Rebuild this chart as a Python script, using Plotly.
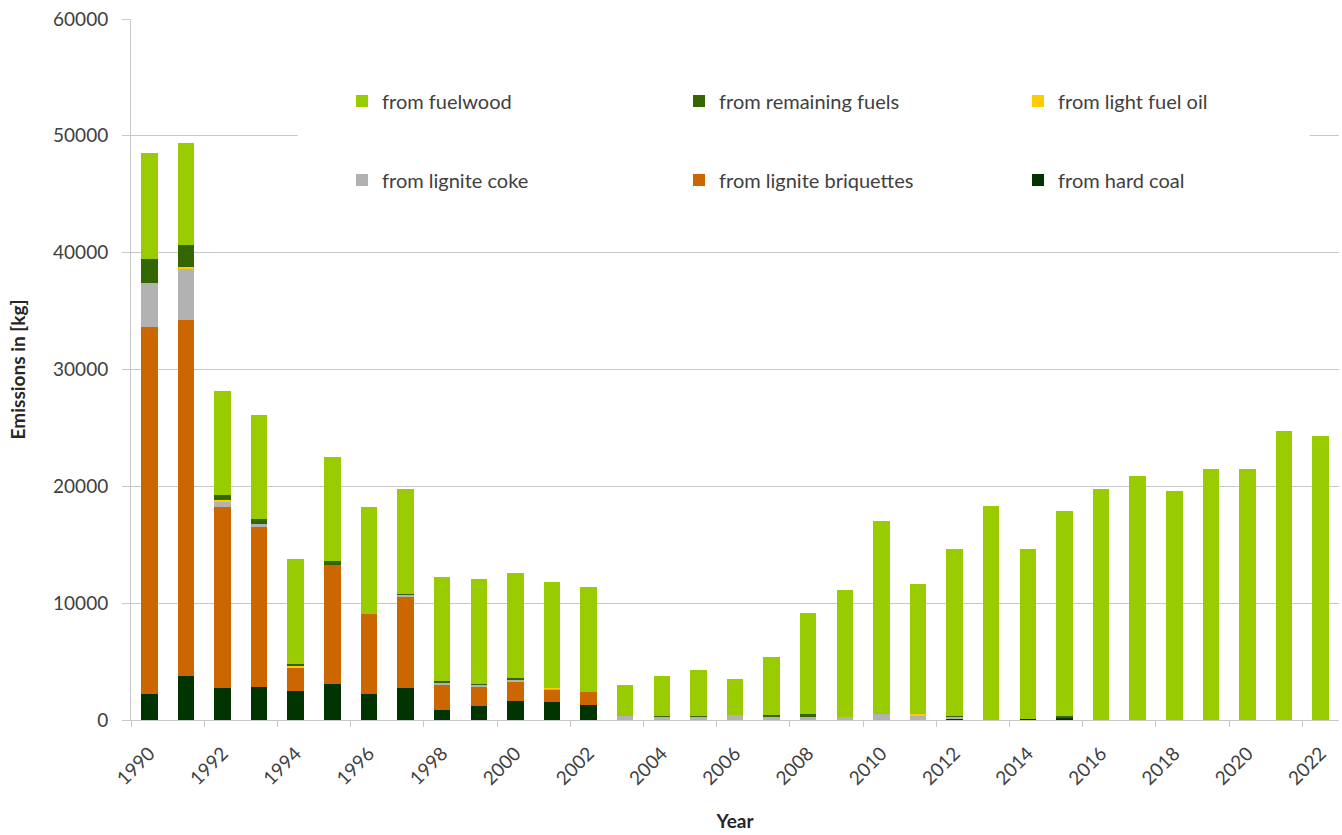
import plotly.graph_objects as go

years = list(range(1990, 2023))

hard_coal = [2200, 3800, 2700, 2800, 2450, 3040, 2230, 2700, 850, 1170, 1600, 1540, 1250,
             0, 0, 0, 0, 0, 0, 0, 0, 0, 60, 0, 120, 250, 0, 0, 0, 0, 0, 0, 0]
lignite_briquettes = [31400, 30430, 15550, 13740, 2030, 10250, 6870, 7850, 2170, 1620, 1620, 1050, 1110,
                      0, 0, 0, 0, 0, 0, 0, 0, 0, 0, 0, 0, 0, 0, 0, 0, 0, 0, 0, 0]
lignite_coke = [3800, 4420, 450, 270, 0, 0, 0, 150, 200, 250, 280, 80, 0,
                310, 300, 300, 430, 340, 340, 280, 490, 400, 200, 0, 0, 0, 0, 0, 0, 0, 0, 0, 0]
light_fuel_oil = [0, 150, 150, 0, 100, 0, 0, 0, 0, 0, 0, 60, 0,
                  0, 0, 0, 0, 0, 0, 0, 0, 90, 0, 0, 0, 0, 0, 0, 0, 0, 0, 0, 0]
remaining_fuels = [2100, 1860, 420, 390, 230, 290, 0, 80, 80, 60, 120, 0, 0,
                   0, 80, 70, 0, 80, 150, 0, 0, 0, 80, 0, 0, 80, 0, 0, 0, 0, 0, 0, 0]
fuelwood = [9000, 8740, 8900, 8910, 8930, 8970, 9090, 9020, 8920, 8950, 9000, 9040, 9010,
            2710, 3380, 3930, 3050, 4990, 8660, 10860, 16530, 11130, 14320, 18350, 14540, 17600,
            19800, 20880, 19600, 21480, 21480, 24720, 24290]

tick_years = list(range(1990, 2023, 2))
tick_labels = [str(y) for y in tick_years]
y_ticks = [0, 10000, 20000, 30000, 40000, 50000, 60000]

# name, values, colour, legend id, legend pixel position (left x, centre y)
series = [
    ("from hard coal", hard_coal, "#003300", "legend6", (1033, 180)),
    ("from lignite briquettes", lignite_briquettes, "#CC6600", "legend5", (694, 180)),
    ("from lignite coke", lignite_coke, "#B2B2B2", "legend4", (357, 180)),
    ("from light fuel oil", light_fuel_oil, "#FFCC00", "legend3", (1033, 101)),
    ("from remaining fuels", remaining_fuels, "#336600", "legend2", (694, 101)),
    ("from fuelwood", fuelwood, "#99CC00", "legend", (357, 101)),
]

FONT = "Lato, 'Open Sans', sans-serif"
GRID = "#C8C8C8"
PL, PR, PT, PB = 131, 1339, 19, 720
W, H = 1342, 835

fig = go.Figure()
legends = {}
for name, vals, color, leg, (lx, ly) in series:
    fig.add_trace(go.Bar(x=years, y=vals, name=name, marker_color=color,
                         marker_line_width=0, legend=leg, showlegend=True))
    legends[leg] = dict(x=(lx - 15 - PL) / (PR - PL), y=(PB - ly) / (PB - PT),
                        xanchor="left", yanchor="middle", orientation="v",
                        itemwidth=30, bgcolor="rgba(0,0,0,0)",
                        font=dict(size=20, color="#404040"))

fig.update_layout(
    width=W, height=H, showlegend=True,
    margin=dict(l=PL, r=W - PR, t=PT, b=H - PB),
    barmode="stack", bargap=0.55,
    plot_bgcolor="white", paper_bgcolor="white",
    font=dict(family=FONT, size=16, color="#404040"),
    xaxis=dict(range=[1989.5, 2022.5], tickmode="array", tickvals=tick_years,
               ticktext=tick_labels, tickangle=-45, ticks="", showgrid=False,
               showline=True, linecolor=GRID, linewidth=1,
               ticklabelstandoff=14,
               tickfont=dict(size=19, color="#404040"),
               minor=dict(tickmode="array", tickvals=[y - 0.5 for y in tick_years],
                          ticks="outside", ticklen=6, tickcolor=GRID, showgrid=False),
               title=dict(text="<b>Year</b>", font=dict(size=19, color="#262626"), standoff=26)),
    yaxis=dict(range=[0, 60000], tickmode="array", tickvals=y_ticks, tickformat="d",
               showgrid=True, gridcolor=GRID, gridwidth=1,
               ticks="outside", ticklen=8, tickcolor=GRID,
               showline=True, linecolor=GRID, linewidth=1, zeroline=False,
               ticklabelstandoff=10,
               tickfont=dict(size=19, color="#404040"),
               title=dict(text="<b>Emissions in [kg]</b>", font=dict(size=19, color="#262626"),
                          standoff=22)),
    shapes=[dict(type="rect", xref="x", yref="y", x0=1994.05, x1=2021.7,
                 y0=49400, y1=50600, fillcolor="white", line_width=0, layer="between")],
    **legends,
)

fig.write_html("out.html", config={"displayModeBar": False},
               post_script="document.body.style.margin='0';document.body.style.overflow='hidden';")
